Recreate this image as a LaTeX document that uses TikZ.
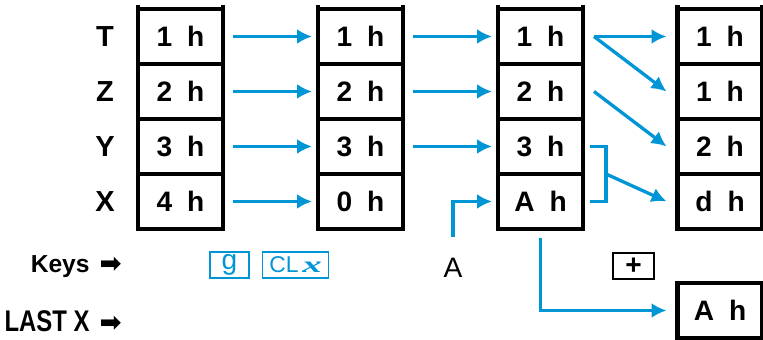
\documentclass[tikz,border=0pt]{standalone}
\usepackage{fontspec}
\setmainfont{Liberation Sans}
\newfontfamily\condfont[FakeStretch=0.8]{Liberation Sans}
\newfontfamily\symfont{DejaVu Sans}
\newfontfamily\keyxfont{Liberation Serif}
\usetikzlibrary{arrows.meta,positioning}

\definecolor{hpblue}{RGB}{0,150,214}

% register contents: value, gap, "h"
\newcommand{\regval}[1]{#1\hspace{0.3cm}h}

\tikzset{
  reg/.style={draw, line width=0.09cm, outer sep=0pt, inner sep=0pt,
    minimum width=1.7cm, minimum height=1.1cm,
    font=\fontsize{16}{18}\selectfont\bfseries},
  rowlabel/.style={font=\fontsize{16.5}{18}\selectfont\bfseries},
  sidelabel/.style={anchor=east, inner sep=0pt},
  keybox/.style={draw=hpblue, text=hpblue, line width=0.8pt, inner sep=0pt,
    minimum height=0.52cm, font=\fontsize{13}{15}\selectfont},
  plusbox/.style={draw, fill=white, line width=0.8pt, inner sep=0pt,
    minimum width=0.82cm, minimum height=0.52cm, font=\fontsize{16}{18}\selectfont\bfseries},
  keytext/.style={font=\fontsize{16}{18}\selectfont},
  flow/.style={hpblue, line width=0.066cm, -{Latex[length=0.3cm,width=0.3cm]}},
  bracket/.style={hpblue, line width=0.066cm}
}

\begin{document}
\begin{tikzpicture}[x=0.02cm, y=-0.02cm]
\useasboundingbox (0,0) rectangle (763,340);

% the four stacks, top to bottom T Z Y X
\foreach \c/\cx/\vt/\vz/\vy/\vx in {1/180.5/1/2/3/4, 2/360.5/1/2/3/0, 3/540.5/1/2/3/A, 4/720/1/1/2/d}{
  \node[reg] (t\c) at (\cx,36.5) {\regval{\vt}};
  \node[reg, below=0pt of t\c] (z\c) {\regval{\vz}};
  \node[reg, below=0pt of z\c] (y\c) {\regval{\vy}};
  \node[reg, below=0pt of y\c] (x\c) {\regval{\vx}};
  \draw[line width=0.09cm] (t\c.north west) -- ++(0,-4) (t\c.north east) -- ++(0,-4);
}

% register names
\node[rowlabel] (lt) at (105,36.5) {T};
\node[rowlabel] (lz) at (105,91.5) {Z};
\node[rowlabel] (ly) at (105,146.5) {Y};
\node[rowlabel] (lx) at (105,201.5) {X};

% g, then CLx
\foreach \r in {t,z,y,x}
  \draw[flow, shorten <=0.2cm, shorten >=0.12cm] (\r1) -- (\r2);
\foreach \r in {t,z,y}
  \draw[flow, shorten <=0.2cm, shorten >=0.12cm] (\r2) -- (\r3);

% digit entry goes into X
\node[keytext] (ka) at (453,268) {A};
\draw[flow, shorten >=0.12cm] (ka) ++(0,-31) |- (x3.west);

% + : stack drops, X and Y combine
\draw[flow] (t3.east) ++(11,0) -- ([xshift=-0.22cm]t4.west);
\draw[flow] (t3.east) ++(11,0) -- ([xshift=-0.22cm]z4.west);
\draw[flow] (z3.east) ++(11,0) -- ([xshift=-0.22cm]y4.west);
\draw[bracket] ([xshift=0.14cm]y3.east) -- ++(16,0) |- ([xshift=0.14cm]x3.east);
\draw[flow] ([xshift=0.46cm]y3.south east) -- ([xshift=-0.22cm]x4.west);

% old X saved in LAST X
\node[reg] (lastx) at (720,310.5) {\regval{A}};
\draw[flow, shorten >=0.22cm] (x3.south) ++(0,9) |- (lastx.west);

% key row
\node[sidelabel] (keys) at (122,267)
  {\fontsize{14}{16}\selectfont\bfseries Keys\hspace{0.2cm}{\symfont\fontsize{15}{16}\selectfont ➡}};
\node[sidelabel] (lastxlabel) at (122,321)
  {\fontsize{17}{19}\selectfont\condfont\bfseries LAST X\hspace{0.2cm}{\symfont\fontsize{15}{16}\selectfont ➡}};
\node[keybox, minimum width=0.78cm] (kg) at (229.5,265) {\fontsize{16}{18}\selectfont g};
\node[keybox, minimum width=1.32cm] (kclx) at (295.5,265)
  {CL\,\scalebox{1.7}[1]{\keyxfont\bfseries\itshape x}};
\node[plusbox] (kplus) at (633.5,266) {+};
\end{tikzpicture}
\end{document}
